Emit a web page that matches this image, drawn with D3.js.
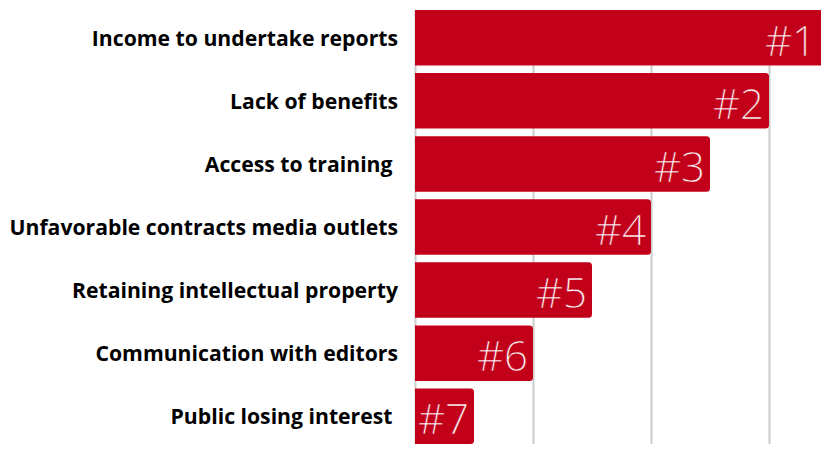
<!DOCTYPE html>
<html>
<head>
<meta charset="utf-8">
<script src="https://cdn.jsdelivr.net/npm/d3@7"></script>
<style>
  html, body { margin: 0; padding: 0; background: #fff; overflow: hidden; }
  svg { display: block; }
  .cat { font-family: "Open Sans", sans-serif; font-weight: 700; font-size: 21.2px; fill: #000; white-space: pre; }
  .rank { font-family: "Open Sans", sans-serif; font-weight: 300; font-size: 42px; fill: #fff; }
</style>
</head>
<body>
<svg id="chart"></svg>
<script>
// Challenges ranked by freelance respondents (score: 7 = most pressing)
const categories = [
  "Income to undertake reports",
  "Lack of benefits",
  "Access to training ",
  "Unfavorable contracts media outlets",
  "Retaining intellectual property",
  "Communication with editors",
  "Public losing interest "
];
const scores = [7, 6, 5, 4, 3, 2, 1];
const rankLabels = ["#1", "#2", "#3", "#4", "#5", "#6", "#7"];
const gridTicks = [0, 2, 4, 6];

const W = 821, H = 459;
const margin = { top: 10, left: 415, bottom: 15 };
const barColor = "#c3001a";

const svg = d3.select("#chart").attr("width", W).attr("height", H);

const x = d3.scaleLinear().domain([0, 7]).range([margin.left, margin.left + 413]);
const y = d3.scaleBand()
  .domain(categories)
  .range([margin.top, H - margin.bottom])
  .paddingInner(0.12)
  .paddingOuter(0.0);

// vertical gridlines behind the bars
const grid = svg.append("g")
  .attr("transform", `translate(0,${margin.top})`)
  .call(d3.axisBottom(x).tickValues(gridTicks).tickSize(y.range()[1] - margin.top).tickFormat(""));
grid.select(".domain").remove();
grid.selectAll(".tick line").attr("stroke", "#cbcbcb").attr("stroke-width", 2);

// bar shape: square on the axis side, rounded on the value end
function barPath(x0, x1, y0, h, r) {
  const p = d3.path();
  p.moveTo(x0, y0);
  p.lineTo(x1 - r, y0);
  p.arcTo(x1, y0, x1, y0 + r, r);
  p.lineTo(x1, y0 + h - r);
  p.arcTo(x1, y0 + h, x1 - r, y0 + h, r);
  p.lineTo(x0, y0 + h);
  p.closePath();
  return p.toString();
}

const rows = categories.map((c, i) => ({ cat: c, score: scores[i], rank: rankLabels[i] }));

svg.append("g").selectAll("path")
  .data(rows)
  .join("path")
  .attr("d", d => barPath(x(0), x(d.score), y(d.cat), y.bandwidth(), 3.5))
  .attr("fill", barColor);

// rank labels at the bar end, kept inside the visible area;
// a hairline bar-coloured outline keeps the glyphs light
svg.append("g").selectAll("text")
  .data(rows)
  .join("text")
  .attr("class", "rank")
  .attr("x", d => Math.min(x(d.score), W) - 5)
  .attr("y", d => y(d.cat) + y.bandwidth() - 10)
  .attr("text-anchor", "end")
  .attr("stroke", barColor)
  .attr("stroke-width", 0.5)
  .text(d => d.rank);

// category labels to the left of the axis
svg.append("g").selectAll("text")
  .data(rows)
  .join("text")
  .attr("class", "cat")
  .attr("x", margin.left - 17)
  .attr("y", d => y(d.cat) + y.bandwidth() / 2 + 8)
  .attr("text-anchor", "end")
  .text(d => d.cat);
</script>
</body>
</html>
